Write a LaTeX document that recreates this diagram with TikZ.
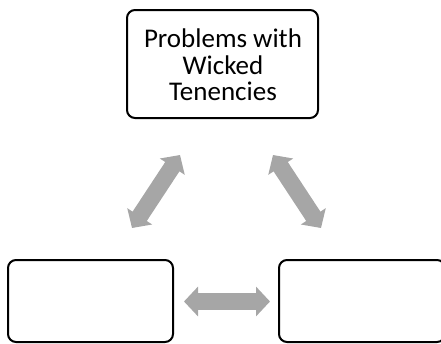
\documentclass[tikz,border=0pt]{standalone}
\usepackage{fontspec}
\setmainfont{Carlito}
\usetikzlibrary{arrows.meta}
\definecolor{arrowgray}{HTML}{A6A6A6}
\tikzset{
  box/.style={draw=black, line width=2pt, rounded corners=8pt, fill=white},
  link/.style={draw=arrowgray, line width=17pt,
    {Triangle[length=14pt,width=29pt]}-{Triangle[length=14pt,width=29pt]}},
}
\begin{document}
\begin{tikzpicture}[x=1pt,y=-1pt]
  \useasboundingbox (0,0) rectangle (441,343);
  % three boxes
  \draw[box] (127,10) rectangle (318,118);
  \node[align=center, font=\fontsize{27}{26.5}\selectfont] (top) at (223,65)
    {Problems with\\Wicked\\Tenencies};
  \draw[box] (8,260) rectangle (173,342);
  \draw[box] (279,260) rectangle (445,342);
  \coordinate (left) at (90.5,301);
  \coordinate (right) at (362,301);
  % double-headed links
  \coordinate (a1) at (132,228);
  \coordinate (a2) at (180,155);
  \coordinate (b1) at (273,155);
  \coordinate (b2) at (321,228);
  \coordinate (c1) at (184,301.5);
  \coordinate (c2) at (270,301.5);
  \draw[link] (a1) -- (a2);
  \draw[link] (b1) -- (b2);
  \draw[link] (c1) -- (c2);
\end{tikzpicture}
\end{document}
